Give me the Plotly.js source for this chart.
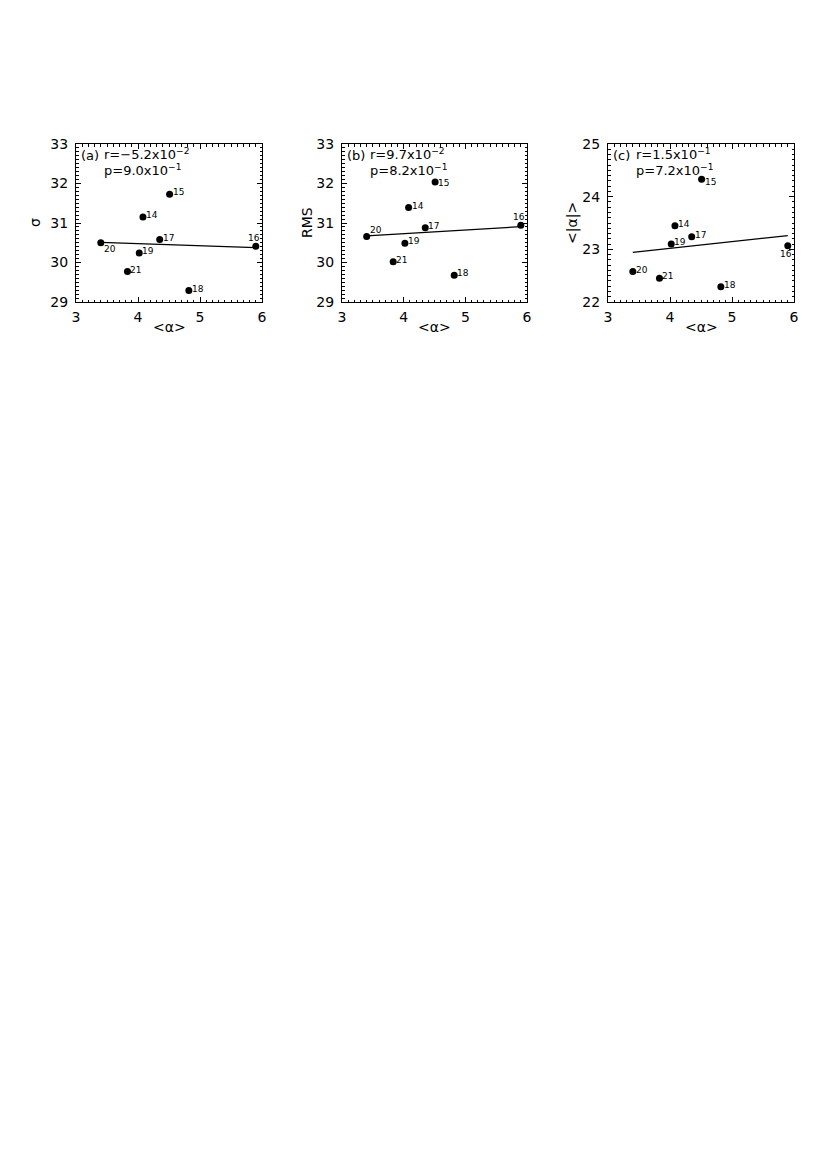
<!DOCTYPE html>
<html>
<head>
<meta charset="utf-8">
<script src="https://cdn.plot.ly/plotly-3.0.1.min.js"></script>
<style>
  html, body { margin: 0; padding: 0; background: #fff; }
  #chart { width: 823px; height: 1163px; }
</style>
</head>
<body>
<div id="chart"></div>
<script>
// event numbers and values
const ids = ['14', '15', '16', '17', '18', '19', '20', '21'];
const meanAlpha = [4.08, 4.51, 5.90, 4.35, 4.82, 4.02, 3.40, 3.83];
const sigma = [31.15, 31.73, 30.41, 30.58, 29.29, 30.24, 30.50, 29.77];
const rms = [31.39, 32.04, 30.94, 30.88, 29.68, 30.49, 30.66, 30.02];
const meanAbsAlpha = [23.45, 24.33, 23.07, 23.24, 22.29, 23.10, 22.58, 22.45];

const panelTags = ['(a)', '(b)', '(c)'];
const rValues = ['\u22125.2', '9.7', '1.5'];
const rExps = ['\u22122', '\u22122', '\u22121'];
const pValues = ['9.0', '8.2', '7.2'];
const pExps = ['\u22121', '\u22121', '\u22121'];
const yTitles = ['\u03c3', 'RMS', '&lt;|\u03b1|&gt;'];
const xTitle = '&lt;\u03b1&gt;';

const W = 823, H = 1163;
const FONT = 'DejaVu Sans, Liberation Sans, sans-serif';

// where each point number sits: 'r' = right of the dot, 'u'/'d' = centred above/below
// second value is the vertical shift in px
const labelPlace = [
    [['r', 2], ['r', 2], ['u', 8], ['r', 2], ['r', 2], ['r', 2], ['r', -6], ['r', 2]],
    [['r', 2], ['r', -1], ['u', 8], ['r', 2], ['r', 2], ['r', 2], ['r', 6], ['r', 2]],
    [['r', 2], ['r', -3], ['d', -8], ['r', 2], ['r', 2], ['r', 2], ['r', 1], ['r', 2]]
];

const panels = [
    {y: sigma, yr: [29, 33], px: [76, 262], titleX: 35},
    {y: rms, yr: [29, 33], px: [342, 527], titleX: 307},
    {y: meanAbsAlpha, yr: [22, 25], px: [608, 794], titleX: 572}
];
const boxTop = 144, boxBottom = 302;

// least squares line through the points
function fitLine(xs, ys) {
    const n = xs.length;
    const mx = xs.reduce((a, b) => a + b, 0) / n;
    const my = ys.reduce((a, b) => a + b, 0) / n;
    let sxy = 0, sxx = 0;
    for (let i = 0; i < n; i++) {
        sxy += (xs[i] - mx) * (ys[i] - my);
        sxx += (xs[i] - mx) * (xs[i] - mx);
    }
    const b = sxy / sxx;
    const x0 = Math.min(...xs), x1 = Math.max(...xs);
    return {x: [x0, x1], y: [my + b * (x0 - mx), my + b * (x1 - mx)]};
}

function axisStyle(extra) {
    return Object.assign({
        showline: true, linecolor: '#000', linewidth: 1,
        mirror: 'ticks', ticks: 'inside', ticklen: 5, tickwidth: 1, tickcolor: '#000',
        showgrid: false, zeroline: false, dtick: 1,
        tickfont: {family: FONT, size: 14, color: '#000'},
        minor: {dtick: 0.1, ticks: 'inside', ticklen: 2.5, tickwidth: 1, tickcolor: '#000', showgrid: false},
        fixedrange: true
    }, extra);
}

const traces = [];
const layout = {
    width: W, height: H,
    margin: {l: 0, r: 0, t: 0, b: 0},
    paper_bgcolor: '#fff', plot_bgcolor: '#fff',
    showlegend: false,
    annotations: []
};

const yDom = [1 - boxBottom / H, 1 - boxTop / H];
const txt = (size) => ({family: FONT, size: size, color: '#000'});

panels.forEach(function (p, k) {
    const sfx = k === 0 ? '' : String(k + 1);
    const xa = 'x' + sfx, ya = 'y' + sfx;

    layout['xaxis' + sfx] = axisStyle({range: [3, 6], domain: [p.px[0] / W, p.px[1] / W],
        anchor: ya, ticklabelstandoff: 2});
    layout['yaxis' + sfx] = axisStyle({range: p.yr, domain: yDom, anchor: xa, ticklabelstandoff: 4});

    const fit = fitLine(meanAlpha, p.y);
    traces.push({
        x: fit.x, y: fit.y, xaxis: xa, yaxis: ya,
        mode: 'lines', line: {color: '#000', width: 1.2}, hoverinfo: 'skip'
    });
    traces.push({
        x: meanAlpha, y: p.y, xaxis: xa, yaxis: ya,
        mode: 'markers', marker: {color: '#000', size: 7}, cliponaxis: false
    });

    // point numbers
    ids.forEach(function (id, i) {
        const pl = labelPlace[k][i];
        const side = pl[0] === 'r';
        layout.annotations.push({
            xref: xa, yref: ya, x: meanAlpha[i], y: p.y[i], text: id, showarrow: false,
            xanchor: side ? 'left' : 'center', yanchor: 'middle',
            xshift: side ? 2 : -2, yshift: pl[1], borderpad: 0, font: txt(9)
        });
    });

    const cx = (p.px[0] + p.px[1]) / 2;
    layout.annotations.push(
        {xref: 'paper', yref: 'paper', x: (p.px[0] + 3) / W, y: 1 - 155 / H,
         xanchor: 'left', yanchor: 'middle', showarrow: false, text: panelTags[k], font: txt(13)},
        {xref: 'paper', yref: 'paper', x: (p.px[0] + 26) / W, y: 1 - 154 / H,
         xanchor: 'left', yanchor: 'middle', showarrow: false,
         text: 'r=' + rValues[k] + 'x10<sup>' + rExps[k] + '</sup>', font: txt(13)},
        {xref: 'paper', yref: 'paper', x: (p.px[0] + 26) / W, y: 1 - 170 / H,
         xanchor: 'left', yanchor: 'middle', showarrow: false,
         text: 'p=' + pValues[k] + 'x10<sup>' + pExps[k] + '</sup>', font: txt(13)},
        {xref: 'paper', yref: 'paper', x: cx / W, y: 1 - 327 / H,
         xanchor: 'center', yanchor: 'middle', showarrow: false, text: xTitle, font: txt(14)},
        {xref: 'paper', yref: 'paper', x: p.titleX / W, y: 1 - 223 / H,
         xanchor: 'center', yanchor: 'middle', showarrow: false, text: yTitles[k], textangle: -90,
         font: txt(14)}
    );
});

Plotly.newPlot('chart', traces, layout, {displayModeBar: false, staticPlot: true});
</script>
</body>
</html>
